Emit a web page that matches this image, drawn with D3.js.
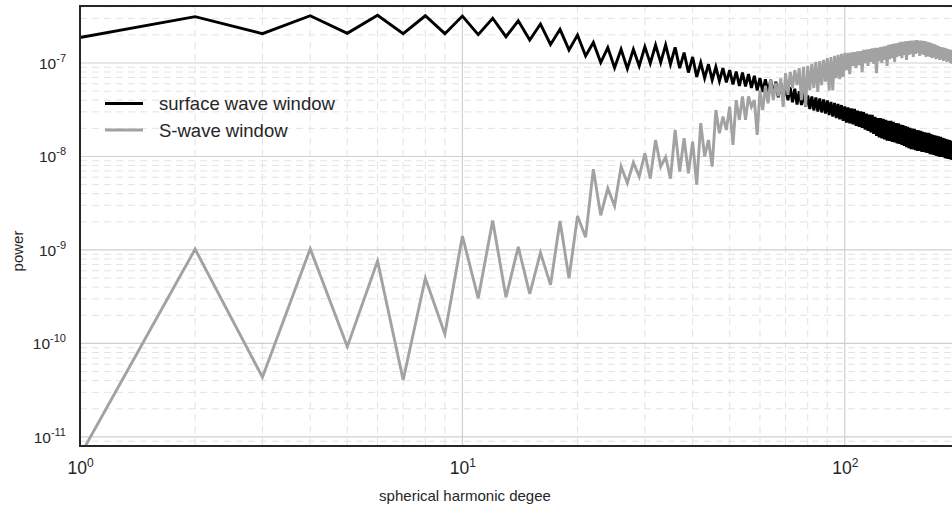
<!DOCTYPE html>
<html>
<head>
<meta charset="utf-8">
<script src="https://cdn.jsdelivr.net/npm/d3@7"></script>
<style>
  body { margin: 0; background: #fff; }
  text { font-family: "Liberation Sans", Arial, sans-serif; fill: #262626; }
</style>
</head>
<body>
<svg id="chart"></svg>
<script>
// spherical harmonic degrees l = 1..195
const degrees = d3.range(1, 196);

// power of the surface wave window, one value per degree
const surfaceWave = [
  1.87e-7, 3.13e-7, 2.06e-7, 3.2e-7, 2.08e-7, 3.24e-7, 2.06e-7, 3.2e-7, 2.06e-7, 3.18e-7,
  2.01e-7, 3.01e-7, 1.91e-7, 2.83e-7, 1.76e-7, 2.61e-7, 1.58e-7, 2.29e-7, 1.38e-7, 1.99e-7,
  1.19e-7, 1.66e-7, 1.01e-7, 1.46e-7, 8.9e-8, 1.40e-7, 8.7e-8, 1.40e-7, 9.3e-8, 1.49e-7,
  9.9e-8, 1.56e-7, 1.01e-7, 1.56e-7, 9.7e-8, 1.47e-7, 8.8e-8, 1.29e-7, 7.9e-8, 1.16e-7,
  7.1e-8, 1.01e-7, 6.9e-8, 9.7e-8, 6.6e-8, 9.1e-8, 6.4e-8, 8.8e-8, 6.2e-8, 8.4e-8,
  5.9e-8, 8.1e-8, 5.7e-8, 7.9e-8, 5.6e-8, 7.6e-8, 5.4e-8, 7.3e-8, 5.1e-8, 6.9e-8,
  4.9e-8, 6.7e-8, 4.8e-8, 6.6e-8, 4.5e-8, 6.3e-8, 4.3e-8, 6.1e-8, 4.1e-8, 5.8e-8,
  4.0e-8, 5.5e-8, 3.8e-8, 5.3e-8, 3.6e-8, 5.0e-8, 3.55e-8, 4.8e-8, 3.4e-8, 4.5e-8,
  3.22e-8, 4.38e-8, 3.11e-8, 4.28e-8, 3.03e-8, 4.17e-8, 2.96e-8, 4.07e-8, 2.88e-8, 3.97e-8,
  2.78e-8, 3.83e-8, 2.68e-8, 3.73e-8, 2.58e-8, 3.64e-8, 2.49e-8, 3.55e-8, 2.40e-8, 3.43e-8,
  2.31e-8, 3.34e-8, 2.26e-8, 3.26e-8, 2.20e-8, 3.22e-8, 2.12e-8, 3.10e-8, 2.07e-8, 3.03e-8,
  2.02e-8, 2.99e-8, 1.94e-8, 2.88e-8, 1.88e-8, 2.81e-8, 1.81e-8, 2.78e-8, 1.74e-8, 2.65e-8,
  1.66e-8, 2.58e-8, 1.60e-8, 2.58e-8, 1.56e-8, 2.52e-8, 1.52e-8, 2.46e-8, 1.48e-8, 2.40e-8,
  1.47e-8, 2.40e-8, 1.43e-8, 2.34e-8, 1.41e-8, 2.28e-8, 1.38e-8, 2.26e-8, 1.36e-8, 2.20e-8,
  1.33e-8, 2.17e-8, 1.30e-8, 2.12e-8, 1.26e-8, 2.07e-8, 1.23e-8, 2.02e-8, 1.20e-8, 1.99e-8,
  1.19e-8, 1.97e-8, 1.17e-8, 1.92e-8, 1.15e-8, 1.90e-8, 1.15e-8, 1.88e-8, 1.12e-8, 1.83e-8,
  1.12e-8, 1.81e-8, 1.10e-8, 1.79e-8, 1.09e-8, 1.79e-8, 1.06e-8, 1.74e-8, 1.05e-8, 1.70e-8,
  1.04e-8, 1.68e-8, 1.02e-8, 1.66e-8, 1.01e-8, 1.64e-8, 9.9e-9, 1.62e-8, 9.9e-9, 1.58e-8,
  9.8e-9, 1.56e-8, 9.6e-9, 1.54e-8, 9.5e-9, 1.52e-8, 9.4e-9, 1.50e-8, 9.3e-9, 1.47e-8,
  9.2e-9, 1.45e-8, 9.1e-9, 1.43e-8, 9.0e-9
];

// power of the S-wave window, one value per degree
const sWave = [
  6.3e-12, 1.02e-9, 4.35e-11, 1.03e-9, 9.25e-11, 7.6e-10, 4.07e-11, 4.98e-10, 1.26e-10, 1.41e-9,
  3.04e-10, 2.06e-9, 3.12e-10, 1.08e-9, 3.38e-10, 9.35e-10, 4.23e-10, 2.04e-9, 4.98e-10, 2.31e-9,
  1.37e-9, 7.3e-9, 2.35e-9, 4.57e-9, 2.96e-9, 7.8e-9, 5.2e-9, 8.6e-9, 6.1e-9, 1.08e-8,
  5.8e-9, 1.50e-8, 7.8e-9, 9.9e-9, 5.8e-9, 1.92e-8, 6.9e-9, 1.57e-8, 6.6e-9, 1.44e-8,
  5.0e-9, 2.27e-8, 1.0e-8, 1.50e-8, 7.8e-9, 3.14e-8, 1.77e-8, 2.67e-8, 1.92e-8, 3.4e-8,
  1.33e-8, 4.0e-8, 2.46e-8, 4.4e-8, 2.46e-8, 4.4e-8, 3.4e-8, 4.0e-8, 1.70e-8, 5.1e-8,
  3.14e-8, 5.7e-8, 3.7e-8, 6.6e-8, 4.0e-8, 6.1e-8, 4.4e-8, 6.85e-8, 3.4e-8, 7.8e-8,
  4.55e-8, 8.0e-8, 5.4e-8, 8.4e-8, 5.8e-8, 8.8e-8, 4.0e-8, 9.1e-8, 3.4e-8, 9.3e-8,
  5.1e-8, 9.8e-8, 5.4e-8, 1.03e-7, 4.9e-8, 1.05e-7, 5.8e-8, 1.08e-7, 6.3e-8, 1.13e-7,
  5.1e-8, 1.16e-7, 5.1e-8, 1.19e-7, 6.9e-8, 1.22e-7, 6.7e-8, 1.25e-7, 7.1e-8, 1.28e-7,
  8.4e-8, 1.28e-7, 7.6e-8, 1.30e-7, 9.3e-8, 1.31e-7, 8.8e-8, 1.33e-7, 9.5e-8, 1.34e-7,
  8.0e-8, 1.38e-7, 1.00e-7, 1.39e-7, 9.3e-8, 1.41e-7, 1.03e-7, 1.43e-7, 9.8e-8, 1.45e-7,
  7.8e-8, 1.45e-7, 1.05e-7, 1.48e-7, 1.00e-7, 1.50e-7, 1.08e-7, 1.52e-7, 9.3e-8, 1.56e-7,
  1.10e-7, 1.58e-7, 1.13e-7, 1.60e-7, 1.03e-7, 1.62e-7, 1.16e-7, 1.64e-7, 1.19e-7, 1.68e-7,
  1.13e-7, 1.68e-7, 1.22e-7, 1.70e-7, 1.08e-7, 1.72e-7, 1.22e-7, 1.72e-7, 1.25e-7, 1.74e-7,
  1.16e-7, 1.74e-7, 1.25e-7, 1.76e-7, 1.28e-7, 1.74e-7, 1.19e-7, 1.74e-7, 1.25e-7, 1.72e-7,
  1.22e-7, 1.72e-7, 1.16e-7, 1.68e-7, 1.19e-7, 1.66e-7, 1.16e-7, 1.64e-7, 1.13e-7, 1.60e-7,
  1.16e-7, 1.58e-7, 1.10e-7, 1.54e-7, 1.13e-7, 1.52e-7, 1.08e-7, 1.48e-7, 1.10e-7, 1.47e-7,
  1.05e-7, 1.45e-7, 1.08e-7, 1.43e-7, 1.03e-7, 1.41e-7, 1.05e-7, 1.39e-7, 1.00e-7, 1.38e-7,
  9.8e-8, 1.36e-7, 1.00e-7, 1.35e-7, 9.7e-8
];

const xMajor = [1, 10, 100];
const yMajor = [1e-11, 1e-10, 1e-9, 1e-8, 1e-7];
const xDomain = [1, 193];
const yDomain = [8.0e-12, 4.07e-7];

const seriesNames = ["surface wave window", "S-wave window"];
const seriesColors = ["#000000", "#a2a2a2"];

const width = 952, height = 507;
const plot = { left: 80, right: 954, top: 6, bottom: 446 };

const svg = d3.select("#chart").attr("width", width).attr("height", height);

const x = d3.scaleLog().domain(xDomain).range([plot.left, plot.right]);
const y = d3.scaleLog().domain(yDomain).range([plot.bottom, plot.top]);

// minor values 2..9 x 10^k
const minorX = [];
for (let k = 0; k <= 2; k++) for (let m = 2; m <= 9; m++) minorX.push(m * Math.pow(10, k));
const minorY = [];
for (let k = -12; k <= -7; k++) for (let m = 2; m <= 9; m++) minorY.push(m * Math.pow(10, k));

svg.append("clipPath").attr("id", "clip")
   .append("rect")
   .attr("x", plot.left).attr("y", plot.top)
   .attr("width", plot.right - plot.left).attr("height", plot.bottom - plot.top);

const grid = svg.append("g").attr("clip-path", "url(#clip)");

// minor grid (dashed)
grid.selectAll(".minor-x").data(minorX.filter(v => v > xDomain[0] && v < xDomain[1]))
    .enter().append("line")
    .attr("x1", d => x(d)).attr("x2", d => x(d))
    .attr("y1", plot.top).attr("y2", plot.bottom)
    .attr("stroke", "#e3e3e3").attr("stroke-width", 1)
    .attr("stroke-dasharray", "7,5");

grid.selectAll(".minor-y").data(minorY.filter(v => v > yDomain[0] && v < yDomain[1]))
    .enter().append("line")
    .attr("x1", plot.left).attr("x2", plot.right)
    .attr("y1", d => y(d)).attr("y2", d => y(d))
    .attr("stroke", "#e3e3e3").attr("stroke-width", 1)
    .attr("stroke-dasharray", "7,5");

// major grid (solid)
grid.selectAll(".major-x").data(xMajor)
    .enter().append("line")
    .attr("x1", d => x(d)).attr("x2", d => x(d))
    .attr("y1", plot.top).attr("y2", plot.bottom)
    .attr("stroke", "#cfcfcf").attr("stroke-width", 1.2);

grid.selectAll(".major-y").data(yMajor)
    .enter().append("line")
    .attr("x1", plot.left).attr("x2", plot.right)
    .attr("y1", d => y(d)).attr("y2", d => y(d))
    .attr("stroke", "#cfcfcf").attr("stroke-width", 1.2);

// data lines
const line = d3.line().x(d => x(d[0])).y(d => y(d[1]));
const lines = svg.append("g").attr("clip-path", "url(#clip)");
[surfaceWave, sWave].forEach((vals, i) => {
    lines.append("path")
         .datum(degrees.map((l, j) => [l, vals[j]]))
         .attr("d", line)
         .attr("fill", "none")
         .attr("stroke", seriesColors[i])
         .attr("stroke-width", 2.9)
         .attr("stroke-linejoin", "miter");
});

// frame
svg.append("path")
   .attr("d", `M${plot.right},${plot.top}H${plot.left}V${plot.bottom}H${plot.right}`)
   .attr("fill", "none")
   .attr("stroke", "#262626")
   .attr("stroke-width", 2);

const expOf = d => Math.round(Math.log10(d));

// x axis
const xAxis = svg.append("g")
   .attr("transform", `translate(0,${plot.bottom})`)
   .call(d3.axisBottom(x).tickValues(xMajor).tickSize(0).tickFormat(() => ""));
xAxis.select(".domain").remove();
xAxis.selectAll(".tick text").each(function(d) {
    const t = d3.select(this).attr("y", 27.5).attr("dy", null)
                .style("font-size", "17.5px");
    t.append("tspan").text("10");
    t.append("tspan").attr("dy", "-0.55em").style("font-size", "12px").text(expOf(d));
});

// y axis
const yAxis = svg.append("g")
   .attr("transform", `translate(${plot.left},0)`)
   .call(d3.axisLeft(y).tickValues(yMajor).tickSize(0).tickPadding(14).tickFormat(() => ""));
yAxis.select(".domain").remove();
yAxis.selectAll(".tick text").each(function(d) {
    const t = d3.select(this).attr("dy", "0.33em").style("font-size", "15.5px");
    t.append("tspan").text("10");
    t.append("tspan").attr("dy", "-0.6em").style("font-size", "11px").text(expOf(d));
});

// axis labels
svg.append("text")
   .attr("x", 465).attr("y", 501)
   .attr("text-anchor", "middle")
   .style("font-size", "15px")
   .text("spherical harmonic degee");

svg.append("text")
   .attr("transform", "translate(23,251) rotate(-90)")
   .attr("text-anchor", "middle")
   .style("font-size", "15px")
   .text("power");

// legend
const legend = svg.append("g");
seriesNames.forEach((name, i) => {
    const ly = 103.5 + i * 26.5;
    legend.append("line")
          .attr("x1", 105).attr("x2", 143)
          .attr("y1", ly).attr("y2", ly)
          .attr("stroke", seriesColors[i]).attr("stroke-width", 2.9);
    legend.append("text")
          .attr("x", 159).attr("y", ly + 6.5)
          .style("font-size", "18.5px")
          .text(name);
});
</script>
</body>
</html>
